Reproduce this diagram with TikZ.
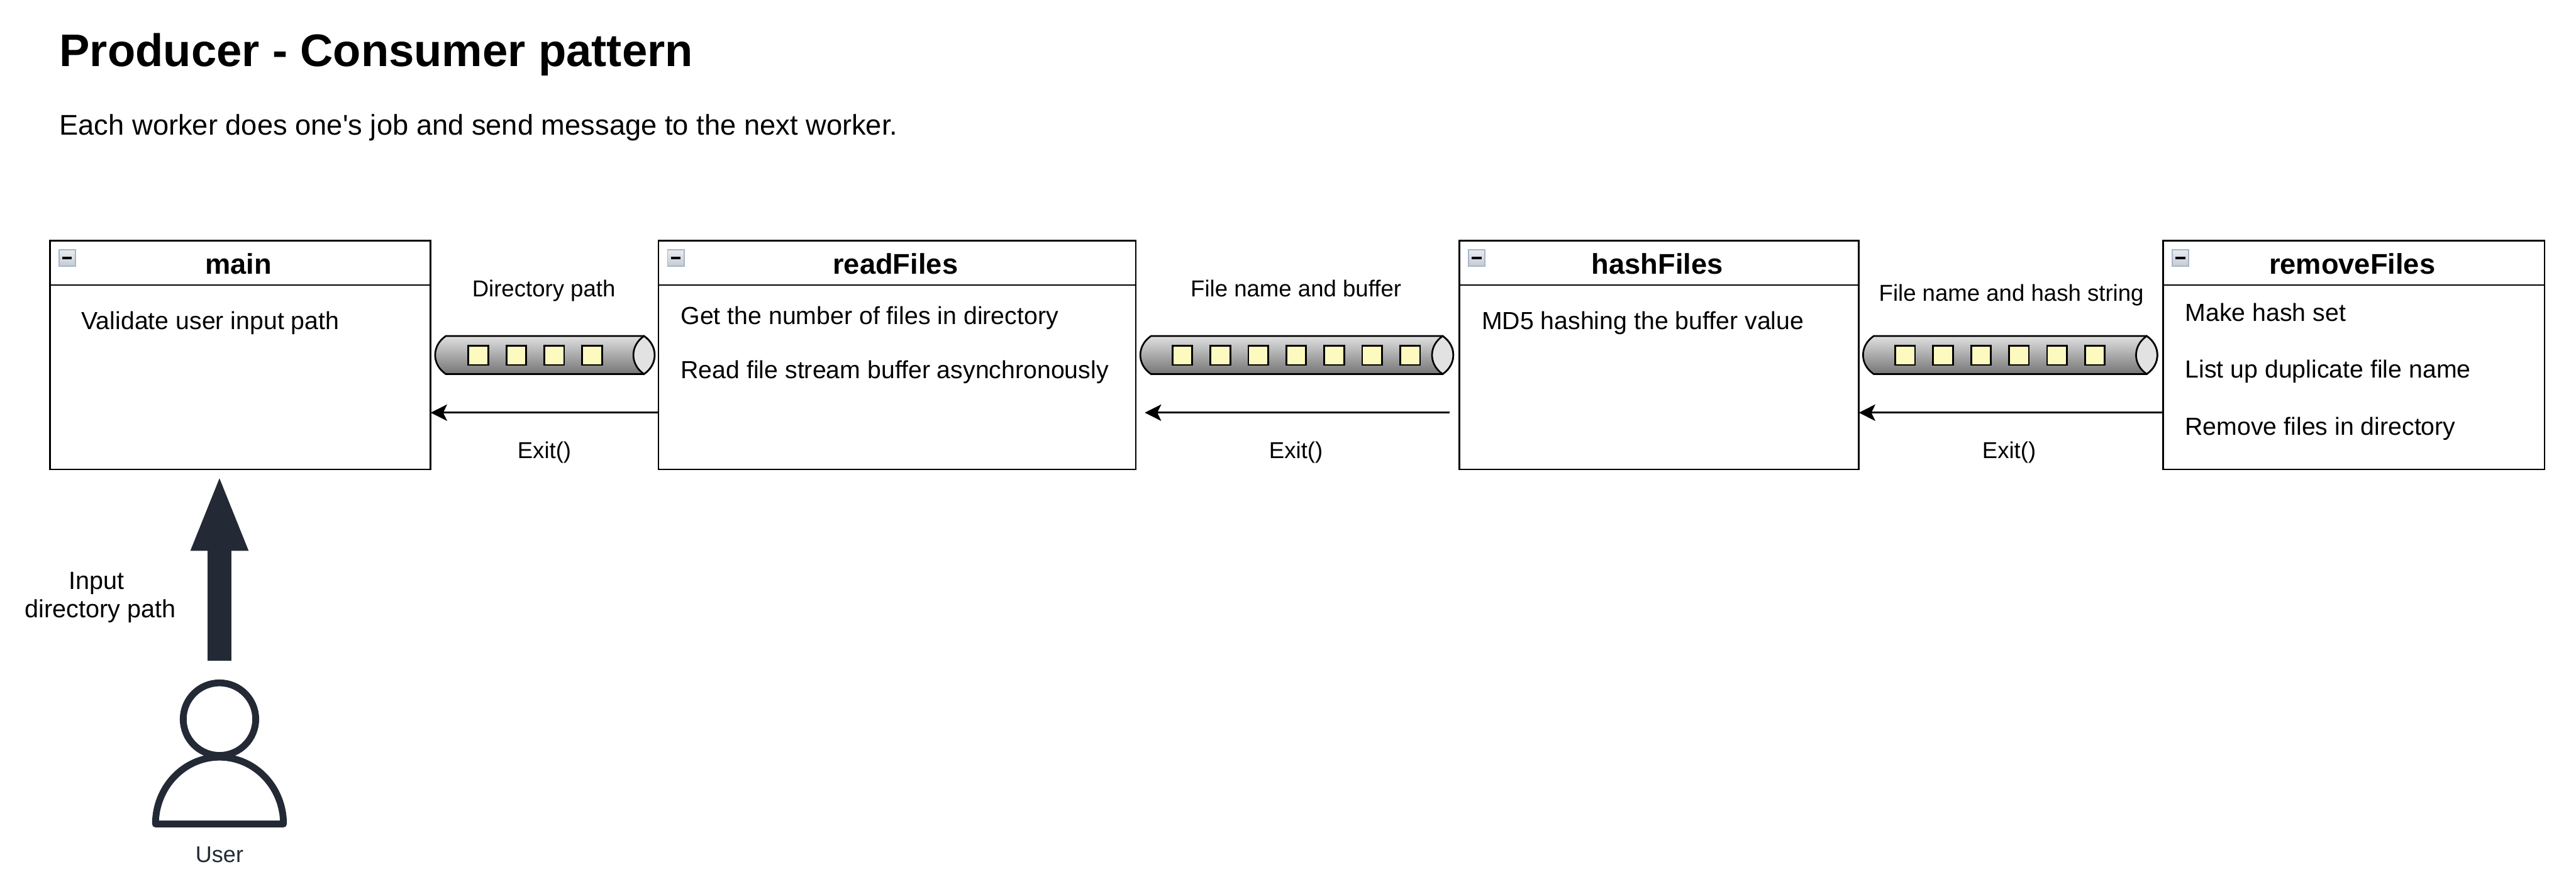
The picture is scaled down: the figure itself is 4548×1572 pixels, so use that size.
\documentclass[tikz,border=0pt]{standalone}
\usepackage{fontspec}
\setmainfont{Liberation Sans}[Ligatures=TeXOff]
\usetikzlibrary{arrows.meta,positioning}
\definecolor{ink}{HTML}{000000}
\definecolor{userink}{HTML}{232A35}
\definecolor{pipetop}{HTML}{E0E0E0}
\definecolor{pipebottom}{HTML}{757575}
\definecolor{pipeend}{HTML}{E2E2E2}
\definecolor{msg}{HTML}{FDFAC0}
\definecolor{iconedge}{HTML}{A9B6C6}
\definecolor{icontop}{HTML}{E8ECEF}
\definecolor{iconbottom}{HTML}{C2CBD6}
\tikzset{
  >=Stealth,
  every node/.style={text=ink,inner sep=0pt,outer sep=0pt},
  worker/.style={draw=ink,line width=.03cm,minimum height=4.03cm,fill=white},
  workername/.style={font=\fontsize{14.3pt}{16pt}\selectfont\bfseries,anchor=base},
  jobtext/.style={font=\fontsize{12.4pt}{14pt}\selectfont,anchor=base west},
  msgtext/.style={font=\fontsize{11.55pt}{14pt}\selectfont,anchor=base},
  headtext/.style={anchor=base west},
  exitarrow/.style={-{Stealth[length=.29cm,width=.29cm,inset=.07cm]},draw=ink,line width=.03cm},
  pipeline/.style={draw=ink,line width=.03cm},
  msgbox/.style={draw=ink,line width=.03cm,fill=msg},
  usershape/.style={draw=userink,line width=.12cm,line join=round},
}
% x0 = left end, x1 = right end, n = squares, sx = first square
\newcommand{\pipe}[4]{
  \pgfmathsetmacro{\capx}{#2-19}
  \draw[pipeline,top color=pipetop,bottom color=pipebottom]
    (#1+19,593) -- (\capx,593) .. controls (\capx+25,610) and (\capx+25,643) .. (\capx,660)
    -- (#1+19,660) .. controls (#1-6,643) and (#1-6,610) .. (#1+19,593) -- cycle;
  \draw[pipeline,fill=pipeend]
    (\capx,593) .. controls (\capx+25,610) and (\capx+25,643) .. (\capx,660)
    .. controls (\capx-25,643) and (\capx-25,610) .. (\capx,593) -- cycle;
  \foreach \k in {1,...,#3}{
    \draw[msgbox] ({#4+(\k-1)*67},610) rectangle ++(35,34);
  }
}

\begin{document}
\begin{tikzpicture}[x=.01cm,y=-.01cm,node distance=4.02cm]
\useasboundingbox (0,0) rectangle (4548,1572);

\node[headtext,font=\fontsize{22.9pt}{26pt}\selectfont\bfseries] (title) at (105,117) {Producer - Consumer pattern};
\node[headtext,font=\fontsize{14.3pt}{17pt}\selectfont] (subtitle) at (105,238) {Each worker does one's job and send message to the next worker.};

% workers
\node[worker,minimum width=6.72cm,anchor=north west] (main) at (88,425) {};
\node[worker,minimum width=8.42cm,right=of main] (readFiles) {};
\node[worker,minimum width=7.05cm,right=5.71cm of readFiles] (hashFiles) {};
\node[worker,minimum width=6.73cm,right=5.37cm of hashFiles] (removeFiles) {};

\foreach \w in {main,readFiles,hashFiles,removeFiles}{
  \draw[line width=.03cm] ([yshift=-.78cm]\w.north west) -- ([yshift=-.78cm]\w.north east);
  \node[workername] (\w name) at ([xshift=-.03cm,yshift=-.58cm]\w.north) {\w};
  \draw[iconedge,line width=.02cm,top color=icontop,bottom color=iconbottom]
    ([xshift=.16cm,yshift=-.16cm]\w.north west) rectangle ++(.29cm,-.29cm);
  \draw[ink,line width=.04cm] ([xshift=.22cm,yshift=-.305cm]\w.north west) -- ++(.17cm,0);
}

\node[jobtext] (validate) at (144,581) {Validate user input path};
\node[jobtext] (count) at (1202,572) {Get the number of files in directory};
\node[jobtext] (read) at (1202,668) {Read file stream buffer asynchronously};
\node[jobtext] (md5) at (2616,581) {MD5 hashing the buffer value};
\node[jobtext] (hashset) at (3858,567) {Make hash set};
\node[jobtext] (dups) at (3858,667) {List up duplicate file name};
\node[jobtext] (remove) at (3858,768) {Remove files in directory};

% pipes between workers
\pipe{768}{1156}{4}{827}
\pipe{2013}{2566}{7}{2070}
\pipe{3289}{3809}{6}{3346}

\node[msgtext] (dirpath) at (960,524) {Directory path};
\node[msgtext] (fnbuf) at (2288,524) {File name and buffer};
\node[msgtext] (fnhash) at (3551,531) {File name and hash string};
\node[msgtext] (exitA) at (961,809) {Exit()};
\node[msgtext] (exitB) at (2288,809) {Exit()};
\node[msgtext] (exitC) at (3547,809) {Exit()};

\draw[exitarrow] ([yshift=-1.015cm]readFiles.west) -- ([yshift=-1.015cm]main.east);
\draw[exitarrow,shorten >=.16cm,shorten <=.17cm] ([yshift=-1.015cm]hashFiles.west) -- ([yshift=-1.015cm]readFiles.east);
\draw[exitarrow] ([yshift=-1.015cm]removeFiles.west) -- ([yshift=-1.015cm]hashFiles.east);

% user
\fill[userink] (387.5,844) -- (439,972) -- (408.5,972) -- (408.5,1166) -- (366.5,1166) -- (366.5,972) -- (336,972) -- cycle;
\draw[usershape] (387.5,1269) circle (64);
\draw[usershape,fill=white] (274.5,1454) .. controls (274.5,1389) and (325,1336) .. (387.5,1336)
  .. controls (450,1336) and (500.5,1389) .. (500.5,1454) -- cycle;
\node[align=center,anchor=base,font=\fontsize{12.5pt}{14.2pt}\selectfont] (inputpath) at (177,1090) {Input\kern.278em\\directory path};
\node[font=\fontsize{11.4pt}{13pt}\selectfont,text=userink,anchor=base] (user) at (387.5,1522) {User};

\end{tikzpicture}
\end{document}
